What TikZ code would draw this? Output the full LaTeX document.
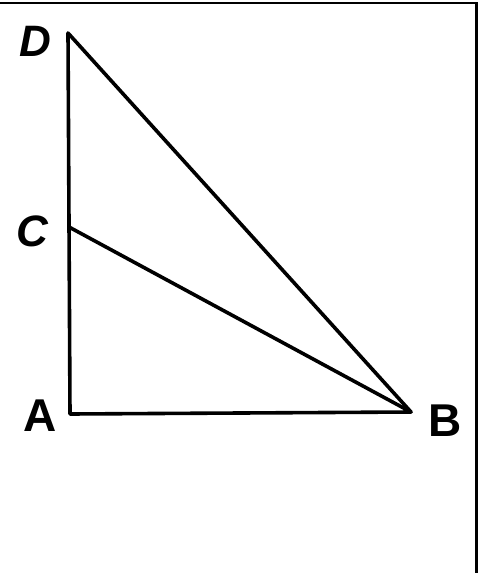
\documentclass[tikz,border=0pt]{standalone}
\usepackage{fontspec}
\setmainfont{Liberation Sans}
\begin{document}
\begin{tikzpicture}[x=1pt,y=-1pt,
  edge/.style={line width=3.6pt,line cap=round,line join=round},
  lbl/.style={font=\fontsize{46}{46}\selectfont\bfseries, inner sep=0pt},
  ilbl/.style={font=\fontsize{44}{44}\selectfont\bfseries\itshape, inner sep=0pt},
  frame/.style={line width=2.4pt}]
\useasboundingbox (0,0) rectangle (478,573);
\coordinate (D) at (68,33);
\coordinate (C) at (69,227);
\coordinate (A) at (70,414);
\coordinate (B) at (411,412);
\draw[edge] (D) -- (A) -- (B) -- cycle;
\draw[edge] (C) -- (B);
\node[ilbl] (lD) at (35,41) {D};
\node[ilbl] (lC) at (32,231) {C};
\node[lbl] (lA) at (40,416) {A};
\node[lbl] (lB) at (445,421) {B};
\coordinate (TL) at (0,3);
\coordinate (TR) at (476.5,3);
\coordinate (BR) at (476.5,573);
\draw[frame] (TL) -- (TR) -- (BR);
\end{tikzpicture}
\end{document}
